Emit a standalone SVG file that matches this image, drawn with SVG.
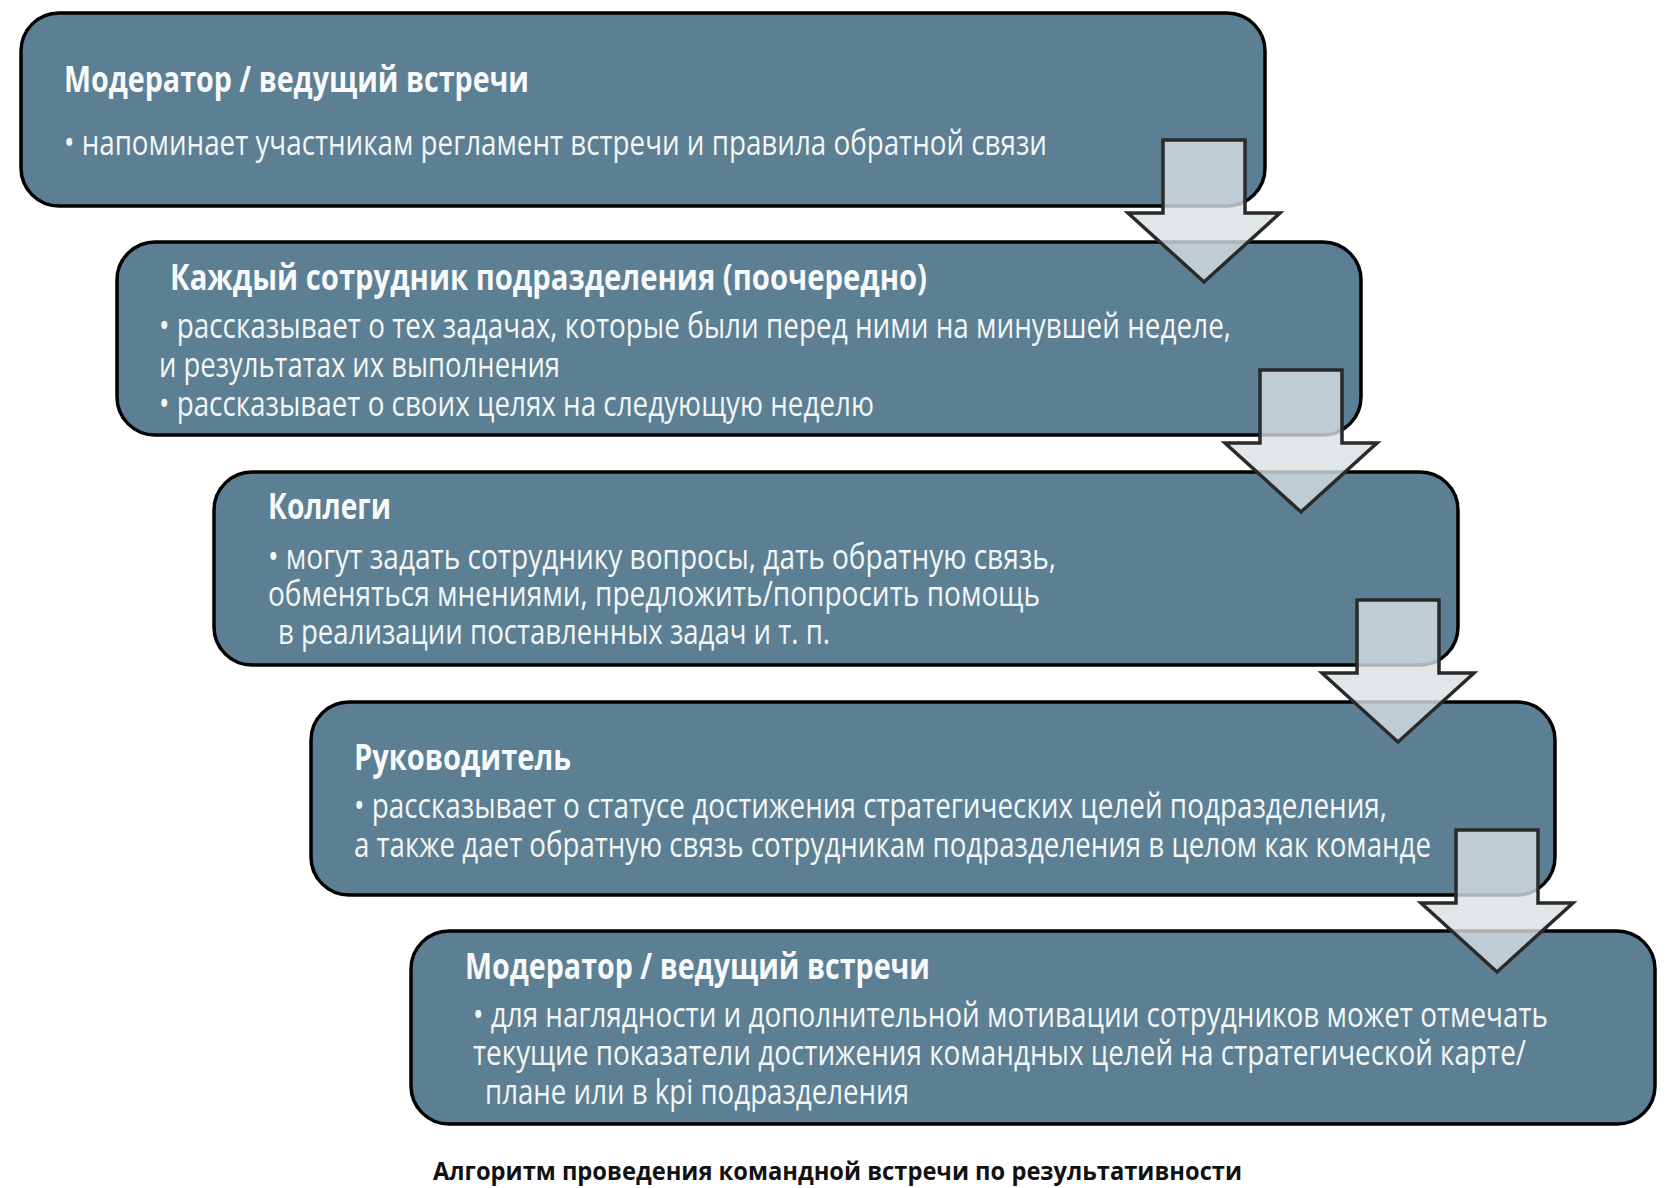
<svg xmlns="http://www.w3.org/2000/svg" width="1667" height="1188" viewBox="0 0 1667 1188">
<style>
.box{fill:#5c7f93;stroke:#000;stroke-width:3.5}
.t{font-family:"Open Sans","Noto Sans",sans-serif;font-weight:700;font-size:36px;fill:#f7f9fa}
.b{font-family:"Open Sans","Noto Sans",sans-serif;font-weight:400;font-size:34px;fill:#f3f6f7}
.arr{fill:#d9e0e4;fill-opacity:0.8;stroke:#2a2a2a;stroke-width:3.5;stroke-linejoin:miter}
.cap{font-family:"Open Sans","Noto Sans",sans-serif;font-weight:700;font-size:25px;fill:#111}
</style>
<defs>
<path id="arrowShape" d="M1163,140 H1245 V213 H1280 L1204,282 L1128,213 H1163 Z"/>
</defs>
<g id="node1">
<rect class="box" x="21" y="13" width="1244" height="193" rx="38"/>
<text class="t" x="64" y="92" textLength="465" lengthAdjust="spacingAndGlyphs">Модератор / ведущий встречи</text>
<text class="b" x="64" y="155" textLength="983" lengthAdjust="spacingAndGlyphs">• напоминает участникам регламент встречи и правила обратной связи</text>
</g>
<g id="node2">
<rect class="box" x="117" y="242" width="1244" height="193" rx="38"/>
<text class="t" x="170" y="290" textLength="757" lengthAdjust="spacingAndGlyphs">Каждый сотрудник подразделения (поочередно)</text>
<text class="b" x="159" y="338" textLength="1072" lengthAdjust="spacingAndGlyphs">• рассказывает о тех задачах, которые были перед ними на минувшей неделе,</text>
<text class="b" x="159" y="377" textLength="401" lengthAdjust="spacingAndGlyphs">и результатах их выполнения</text>
<text class="b" x="159" y="416" textLength="715" lengthAdjust="spacingAndGlyphs">• рассказывает о своих целях на следующую неделю</text>
</g>
<g id="node3">
<rect class="box" x="214" y="472" width="1244" height="193" rx="38"/>
<text class="t" x="268" y="519" textLength="123" lengthAdjust="spacingAndGlyphs">Коллеги</text>
<text class="b" x="268" y="569" textLength="788" lengthAdjust="spacingAndGlyphs">• могут задать сотруднику вопросы, дать обратную связь,</text>
<text class="b" x="268" y="606" textLength="772" lengthAdjust="spacingAndGlyphs">обменяться мнениями, предложить/попросить помощь</text>
<text class="b" x="278" y="644" textLength="552" lengthAdjust="spacingAndGlyphs">в реализации поставленных задач и т. п.</text>
</g>
<g id="node4">
<rect class="box" x="311" y="702" width="1244" height="193" rx="38"/>
<text class="t" x="354" y="770" textLength="217" lengthAdjust="spacingAndGlyphs">Руководитель</text>
<text class="b" x="354" y="818" textLength="1033" lengthAdjust="spacingAndGlyphs">• рассказывает о статусе достижения стратегических целей подразделения,</text>
<text class="b" x="354" y="857" textLength="1077" lengthAdjust="spacingAndGlyphs">а также дает обратную связь сотрудникам подразделения в целом как команде</text>
</g>
<g id="node5">
<rect class="box" x="411" y="931" width="1244" height="193" rx="38"/>
<text class="t" x="465" y="979" textLength="465" lengthAdjust="spacingAndGlyphs">Модератор / ведущий встречи</text>
<text class="b" x="473" y="1027" textLength="1075" lengthAdjust="spacingAndGlyphs">• для наглядности и дополнительной мотивации сотрудников может отмечать</text>
<text class="b" x="473" y="1065" textLength="1053" lengthAdjust="spacingAndGlyphs">текущие показатели достижения командных целей на стратегической карте/</text>
<text class="b" x="485" y="1104" textLength="424" lengthAdjust="spacingAndGlyphs">плане или в kpi подразделения</text>
</g>
<g id="connectors">
<use href="#arrowShape" class="arr"/>
<use href="#arrowShape" class="arr" transform="translate(97,230)"/>
<use href="#arrowShape" class="arr" transform="translate(194,460)"/>
<use href="#arrowShape" class="arr" transform="translate(293,690)"/>
</g>
<text class="cap" x="433" y="1180" textLength="809" lengthAdjust="spacingAndGlyphs">Алгоритм проведения командной встречи по результативности</text>
</svg>
